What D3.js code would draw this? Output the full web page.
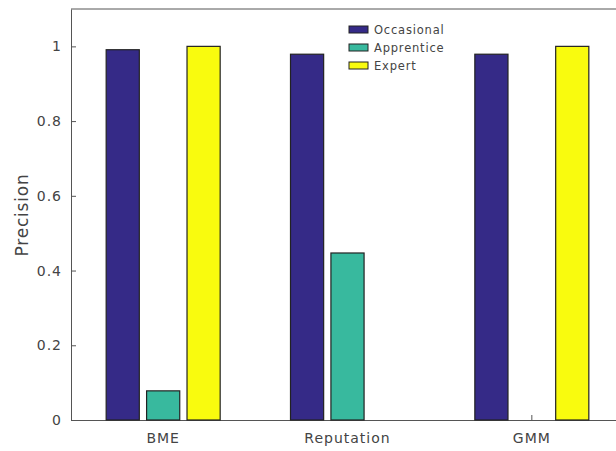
<!DOCTYPE html>
<html><head><meta charset="utf-8">
<script src="https://cdn.jsdelivr.net/npm/d3@7/dist/d3.min.js"></script>
<style>
body{margin:0;background:#fff;}
text{font-family:"DejaVu Sans",sans-serif;}
</style></head>
<body><svg id="c" width="616" height="451"></svg>
<script>
const categories = ["BME", "Reputation", "GMM"];
const seriesNames = ["Occasional", "Apprentice", "Expert"];
const occasional = [0.991, 0.979, 0.979];
const apprentice = [0.078, 0.447, 0.0];
const expert = [1.0, 0.0, 1.0];
const yTicks = [0, 0.2, 0.4, 0.6, 0.8, 1];
const colors = ["#352a87", "#38b99e", "#f9fb0e"];
const seriesValues = [occasional, apprentice, expert];

const svg = d3.select("#c");
const L = 71, R = 624, T = 9, B = 420;
const x = d3.scaleBand().domain(categories).range([L, R]).paddingInner(0).paddingOuter(0);
const xi = d3.scaleBand().domain(seriesNames).range([-57, 57]).paddingInner(0.18).paddingOuter(0);
const y = d3.scaleLinear().domain([0, 1.1]).range([B, T]);
const axisColor = "#555";
const textColor = "#444";

// box top line
svg.append("line").attr("x1", L).attr("x2", R).attr("y1", T).attr("y2", T)
  .attr("stroke", axisColor).attr("stroke-width", 1);

const ya = svg.append("g").attr("transform", `translate(${L},0)`)
  .call(d3.axisLeft(y).tickValues(yTicks).tickFormat(d => d3.format("")(+d.toFixed(1))).tickSizeInner(-5).tickSizeOuter(0).tickPadding(9));
const xa = svg.append("g").attr("transform", `translate(0,${B})`)
  .call(d3.axisBottom(x).tickSizeInner(-5).tickSizeOuter(0).tickPadding(13));
[ya, xa].forEach(g => {
  g.selectAll("path,line").attr("stroke", axisColor);
  g.selectAll("text").attr("fill", textColor).style("font-size", "14px")
    .style("letter-spacing", "1px").style("font-family", "DejaVu Sans, sans-serif");
});

// bars
seriesNames.forEach((s, si) => {
  svg.append("g").selectAll("rect").data(categories).join("rect")
    .attr("x", c => x(c) + x.bandwidth() / 2 + xi(s))
    .attr("width", xi.bandwidth())
    .attr("y", (c, i) => y(seriesValues[si][i]))
    .attr("height", (c, i) => B - y(seriesValues[si][i]))
    .attr("fill", colors[si])
    .attr("stroke", "#222")
    .attr("stroke-opacity", (c, i) => seriesValues[si][i] === 0 ? 0.3 : 1)
    .attr("stroke-width", 1.2);
});

// y label
svg.append("text").attr("transform", "translate(28,215) rotate(-90)")
  .attr("text-anchor", "middle").attr("fill", textColor).style("font-size", "17px")
  .style("letter-spacing", "0.8px").text("Precision");

// legend
const lg = svg.append("g").attr("transform", "translate(349,30)");
seriesNames.forEach((s, i) => {
  const row = lg.append("g").attr("transform", `translate(0,${i * 18})`);
  row.append("rect").attr("x", 0).attr("y", -4).attr("width", 19).attr("height", 7)
    .attr("fill", colors[i]).attr("stroke", "#222").attr("stroke-width", 1);
  row.append("text").attr("x", 25).attr("y", 0).attr("dy", "0.35em")
    .attr("fill", textColor).style("font-size", "11.5px").style("letter-spacing", "0.8px").text(s);
});
</script></body></html>
